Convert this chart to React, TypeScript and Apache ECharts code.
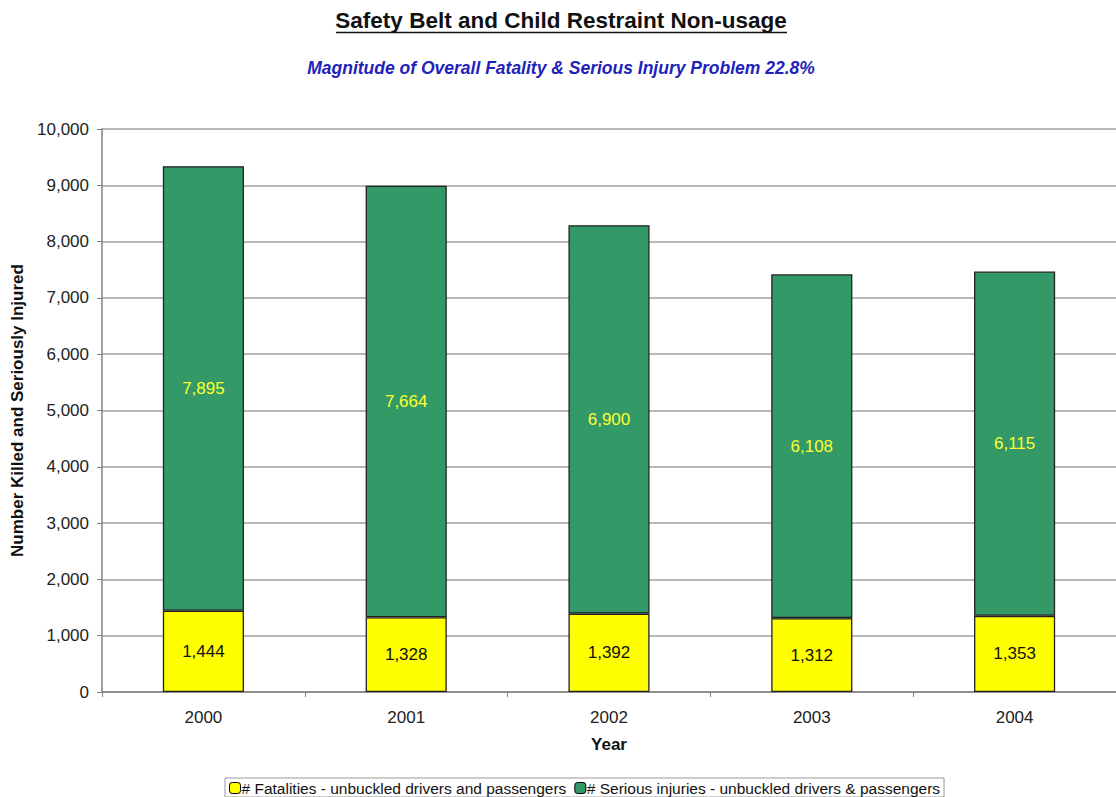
import React, { useEffect, useRef } from "react";
import * as echarts from "echarts";

const years = ["2000", "2001", "2002", "2003", "2004"];
const fatalities = [1444, 1328, 1392, 1312, 1353];
const injuries = [7895, 7664, 6900, 6108, 6115];
const yTicks = { min: 0, max: 10000, interval: 1000 };

const titleText = "Safety Belt and Child Restraint Non-usage";
const subtitleText = "Magnitude of Overall Fatality & Serious Injury Problem 22.8%";
const fatalName = "# Fatalities - unbuckled drivers and passengers";
const injuryName = "# Serious injuries - unbuckled drivers & passengers";

const fmt = (v: number) => v.toLocaleString("en-US");

export default function App() {
  const ref = useRef<HTMLDivElement>(null);
  useEffect(() => {
    document.body.style.margin = "0";
    if (!ref.current) return;
    const chart = echarts.init(ref.current, null, { renderer: "svg" });
    const font = "Liberation Sans, Arial, sans-serif";
    chart.setOption({
      animation: false,
      textStyle: { fontFamily: font },
      graphic: [
        {
          type: "text",
          x: 561,
          y: 20,
          style: {
            text: titleText,
            font: `bold 22.5px ${font}`,
            fill: "#111",
            textAlign: "center",
            textVerticalAlign: "middle",
          },
        },
        {
          type: "line",
          shape: { x1: 336, y1: 32.5, x2: 787, y2: 32.5 },
          style: { stroke: "#111", lineWidth: 1.5 },
        },
        {
          type: "text",
          x: 561,
          y: 68,
          style: {
            text: subtitleText,
            font: `italic bold 17.5px ${font}`,
            fill: "#2222BB",
            textAlign: "center",
            textVerticalAlign: "middle",
          },
        },
      ],
      legend: {
        bottom: 0,
        left: 225,
        itemWidth: 11,
        itemHeight: 11,
        itemGap: 8,
        padding: [2, 4, 1, 4],
        borderColor: "#999",
        borderWidth: 1,
        borderRadius: 0,
        textStyle: { fontSize: 15.5, color: "#111", padding: [0, 0, 0, -4] },
        data: [
          { name: fatalName, itemStyle: { color: "#FFFF00", borderColor: "#000", borderWidth: 1 } },
          { name: injuryName, itemStyle: { color: "#339966", borderColor: "#000", borderWidth: 1 } },
        ],
      },
      grid: { left: 102, right: -6, top: 129, bottom: 105, containLabel: false },
      xAxis: {
        type: "category",
        data: years,
        name: "Year",
        nameLocation: "middle",
        nameGap: 44,
        nameTextStyle: { fontWeight: "bold", fontSize: 17, color: "#111" },
        axisLine: { lineStyle: { color: "#808080", width: 1.5 } },
        axisTick: { show: true, alignWithLabel: false, length: 5, lineStyle: { color: "#808080" } },
        axisLabel: { fontSize: 17, color: "#222", margin: 17 },
      },
      yAxis: {
        type: "value",
        min: yTicks.min,
        max: yTicks.max,
        interval: yTicks.interval,
        name: "Number Killed and Seriously Injured",
        nameLocation: "middle",
        nameGap: 75,
        nameTextStyle: { fontWeight: "bold", fontSize: 17, color: "#111" },
        axisLine: { show: true, lineStyle: { color: "#808080", width: 1.5 } },
        axisTick: { show: true, length: 5, lineStyle: { color: "#808080" } },
        axisLabel: { fontSize: 17, color: "#222", margin: 13, formatter: (v: number) => fmt(v) },
        splitLine: { lineStyle: { color: "#a0a0a0", width: 1.5 } },
      },
      series: [
        {
          name: fatalName,
          type: "bar",
          stack: "total",
          barWidth: "40%",
          data: fatalities,
          itemStyle: { color: "#FFFF00", borderColor: "#222", borderWidth: 1.3 },
          label: {
            show: true,
            position: "inside",
            color: "#111",
            fontSize: 17,
            formatter: (p: any) => fmt(p.value),
          },
        },
        {
          name: injuryName,
          type: "bar",
          stack: "total",
          barWidth: "40%",
          data: injuries,
          itemStyle: { color: "#339966", borderColor: "#222", borderWidth: 1.3 },
          label: {
            show: true,
            position: "inside",
            color: "#FFFF33",
            fontSize: 17,
            formatter: (p: any) => fmt(p.value),
          },
        },
      ],
    });
    return () => chart.dispose();
  }, []);
  return <div ref={ref} style={{ width: 1116, height: 797 }} />;
}
